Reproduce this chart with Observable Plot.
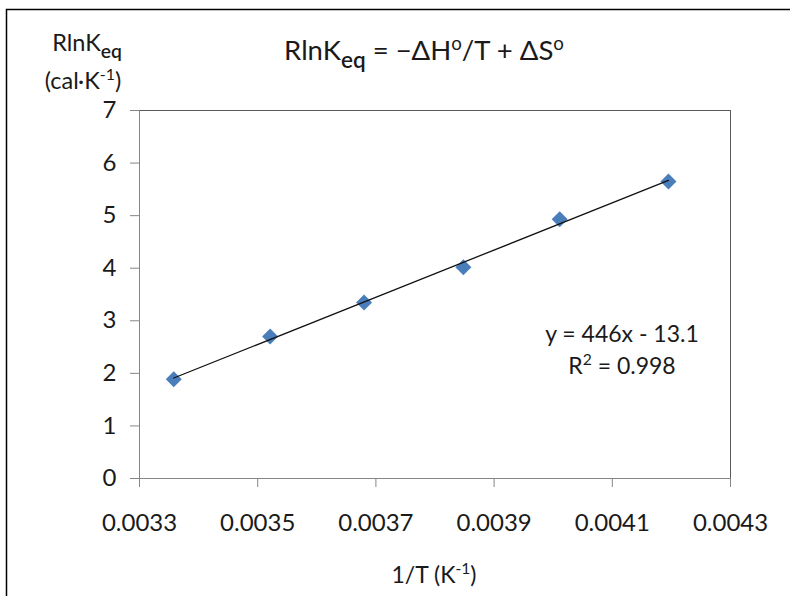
<!DOCTYPE html>
<html>
<head>
<meta charset="utf-8">
<script src="https://cdn.jsdelivr.net/npm/d3@7"></script>
<script src="https://cdn.jsdelivr.net/npm/@observablehq/plot@0.6"></script>
<style>
  html, body { margin: 0; padding: 0; background: #fff; }
</style>
</head>
<body>
<div id="chart"></div>
<script>
// ---- data ----
const invT = [0.003358, 0.003521, 0.003680, 0.003848, 0.004011, 0.004195];
const rlnK = [1.89, 2.70, 3.35, 4.02, 4.93, 5.65];
const xTicks = [0.0033, 0.0035, 0.0037, 0.0039, 0.0041, 0.0043];
const yTicks = [0, 1, 2, 3, 4, 5, 6, 7];
const fitLines = ["y = 446x - 13.1", "R² = 0.998"];

const data = invT.map((x, i) => ({x, y: rlnK[i]}));

const textColor = "#1a1a1a";
const axisGray = "#868686";
const font = "Lato, 'Open Sans', sans-serif";

const svg = Plot.plot({
  width: 790,
  height: 596,
  marginLeft: 139,
  marginRight: 60,
  marginTop: 110,
  marginBottom: 118,
  style: {fontFamily: font, fontSize: "24px", color: textColor, background: "white", overflow: "hidden"},
  x: {domain: [0.0033, 0.0043]},
  y: {domain: [0, 7]},
  marks: [
    Plot.frame({stroke: "#595959"}),
    Plot.ruleY([0], {stroke: axisGray}),
    Plot.ruleX([0.0033], {stroke: axisGray}),
    Plot.axisX({ticks: xTicks, tickFormat: d => d.toFixed(4), tickSize: 9, tickPadding: 26,
                stroke: axisGray, fill: textColor, label: null}),
    Plot.axisY({ticks: yTicks, tickFormat: d => String(d), tickSize: 9, tickPadding: 14,
                stroke: axisGray, fill: textColor, label: null}),
    Plot.dot(data, {x: "x", y: "y", symbol: "diamond2", r: 7.2, fill: "#4A7EBB", stroke: "none"}),
    Plot.linearRegressionY(data, {x: "x", y: "y", ci: 0, stroke: "#111", strokeWidth: 1.3})
  ]
});

document.getElementById("chart").appendChild(svg);

const s = d3.select(svg);

// outer chart border (extends past right/bottom edges)
s.append("rect")
  .attr("x", 6.5).attr("y", 9.5)
  .attr("width", 820).attr("height", 620)
  .attr("fill", "none").attr("stroke", "#000").attr("stroke-width", 1.5);

function richText(parent, x, y, parts, size, anchor = "middle", subScale = 0.74) {
  const t = parent.append("text")
    .attr("x", x).attr("y", y)
    .attr("text-anchor", anchor)
    .attr("font-family", font)
    .attr("font-size", size)
    .attr("fill", textColor);
  let shift = 0;
  for (const [str, kind] of parts) {
    const sp = t.append("tspan").text(str);
    let target = 0;
    if (kind === "sub") {
      sp.attr("font-size", size * subScale).attr("font-weight", 600);
      target = size * 0.28;
    } else if (kind === "sup") {
      sp.attr("font-size", size * 0.68); target = -size * 0.38;
    }
    if (target - shift !== 0) sp.attr("dy", target - shift);
    shift = target;
  }
  return t;
}

// chart title
richText(s, 424, 60, [["RlnK"], ["eq", "sub"], [" = −ΔH"], ["o", "sup"], ["/T + ΔS"], ["o", "sup"]], 27.5, "middle", 0.82);

// y-axis title (two lines)
richText(s, 87, 51, [["RlnK"], ["eq", "sub"]], 23.5, "middle", 0.82);
richText(s, 83, 89, [["(cal·K"], ["-1", "sup"], [")"]], 23.5);

// x-axis title
richText(s, 434, 583, [["1/T (K"], ["-1", "sup"], [")"]], 23);

// trendline equation
const eq = fitLines;
richText(s, 622, 342, [[eq[0]]], 23);
richText(s, 622, 374, [["R"], ["2", "sup"], [eq[1].slice(2)]], 23);
</script>
</body>
</html>
